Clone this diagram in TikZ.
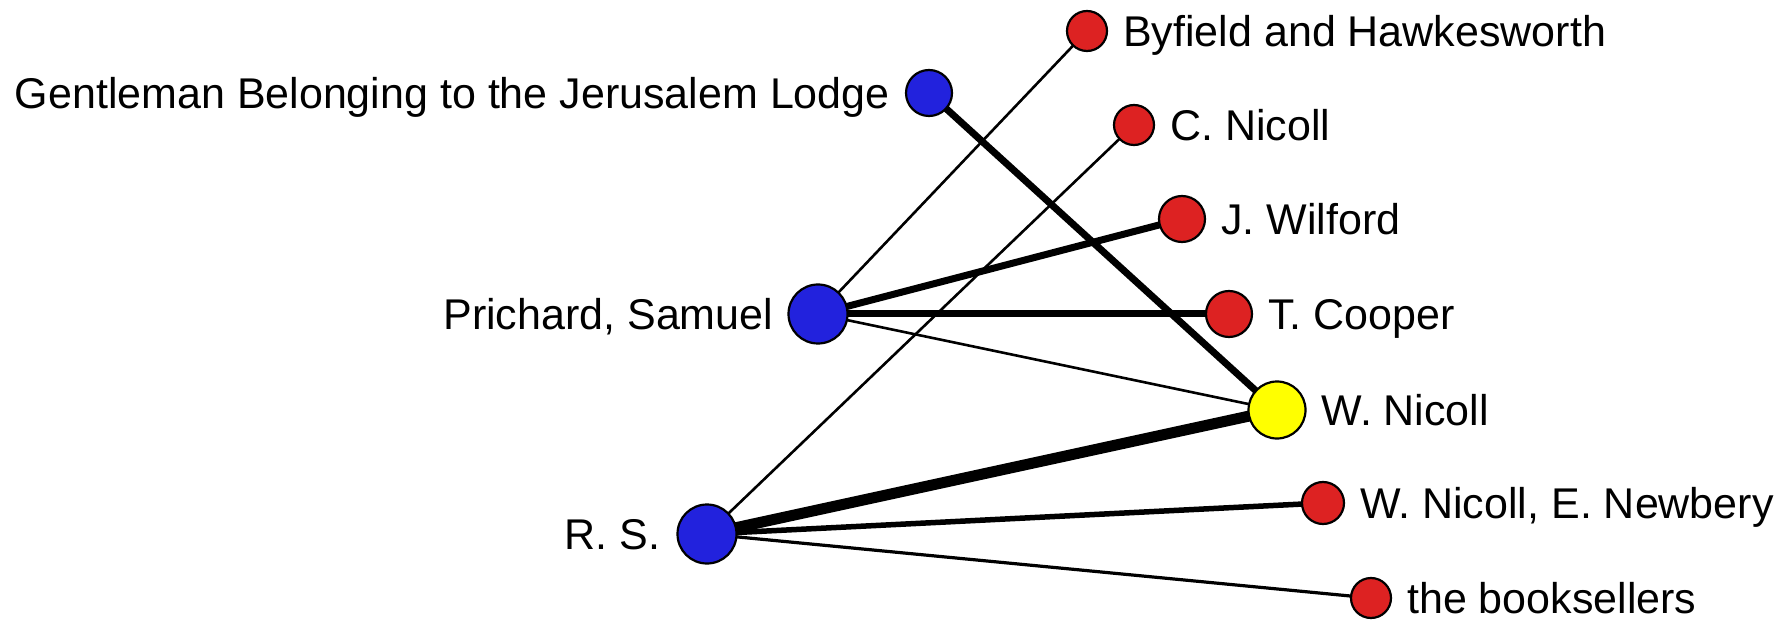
\documentclass[tikz,border=0pt]{standalone}
\usepackage{fontspec}
\setmainfont{Liberation Sans}
\usetikzlibrary{positioning,backgrounds}
\definecolor{nblue}{RGB}{34,34,221}
\definecolor{nred}{RGB}{221,34,34}
\definecolor{nyel}{RGB}{255,255,0}
\tikzset{
  vtx/.style={circle,draw=black,line width=2.2pt,inner sep=0pt},
  lbl/.style={inner sep=0pt,text height=30.8pt,text depth=0pt,font=\fontsize{43}{50}\selectfont},
  e1/.style={line width=2.6pt},
  e2/.style={line width=3.2pt},
  e4/.style={line width=5.5pt},
  e5/.style={line width=7pt},
  e8/.style={line width=11pt},
}
\begin{document}
\begin{tikzpicture}[x=1pt,y=-1pt]
\useasboundingbox (0,0) rectangle (1789,620);
% nodes
\node[vtx,fill=nred,minimum size=40pt] (byf) at (1087,31) {};
\node[vtx,fill=nblue,minimum size=46pt] (gent) at (929,93) {};
\node[vtx,fill=nred,minimum size=40pt] (cnic) at (1134,125) {};
\node[vtx,fill=nred,minimum size=46pt] (wilf) at (1182,219) {};
\node[vtx,fill=nblue,minimum size=59pt] (prich) at (818,314) {};
\node[vtx,fill=nred,minimum size=46pt] (coop) at (1229,314) {};
\node[vtx,fill=nyel,minimum size=57pt] (wnic) at (1277,410) {};
\node[vtx,fill=nred,minimum size=42pt] (newb) at (1323,503) {};
\node[vtx,fill=nblue,minimum size=59pt] (rs) at (707,534) {};
\node[vtx,fill=nred,minimum size=40pt] (book) at (1371,598) {};
% labels
\node[lbl,right=15pt of byf] (byfl) {Byfield and Hawkesworth};
\node[lbl,left=15pt of gent] (gentl) {Gentleman Belonging to the Jerusalem Lodge};
\node[lbl,right=15pt of cnic] (cnicl) {C. Nicoll};
\node[lbl,right=15pt of wilf] (wilfl) {J. Wilford};
\node[lbl,left=14pt of prich] (prichl) {Prichard, Samuel};
\node[lbl,right=15pt of coop] (coopl) {T. Cooper};
\node[lbl,right=15pt of wnic] (wnicl) {W. Nicoll};
\node[lbl,right=15pt of newb] (newbl) {W. Nicoll, E. Newbery};
\node[lbl,left=16pt of rs] (rsl) {R. S.};
\node[lbl,right=15pt of book] (bookl) {the booksellers};
% edges
\begin{pgfonlayer}{background}
\draw[e1] (prich.center) -- (byf.center);
\draw[e1] (rs.center) -- (cnic.center);
\draw[e5] (gent.center) -- (wnic.center);
\draw[e5] (prich.center) -- (wilf.center);
\draw[e5] (prich.center) -- (coop.center);
\draw[e1] (prich.center) -- (wnic.center);
\draw[e8] (rs.center) -- (wnic.center);
\draw[e4] (rs.center) -- (newb.center);
\draw[e2] (rs.center) -- (book.center);
\end{pgfonlayer}
\end{tikzpicture}
\end{document}
